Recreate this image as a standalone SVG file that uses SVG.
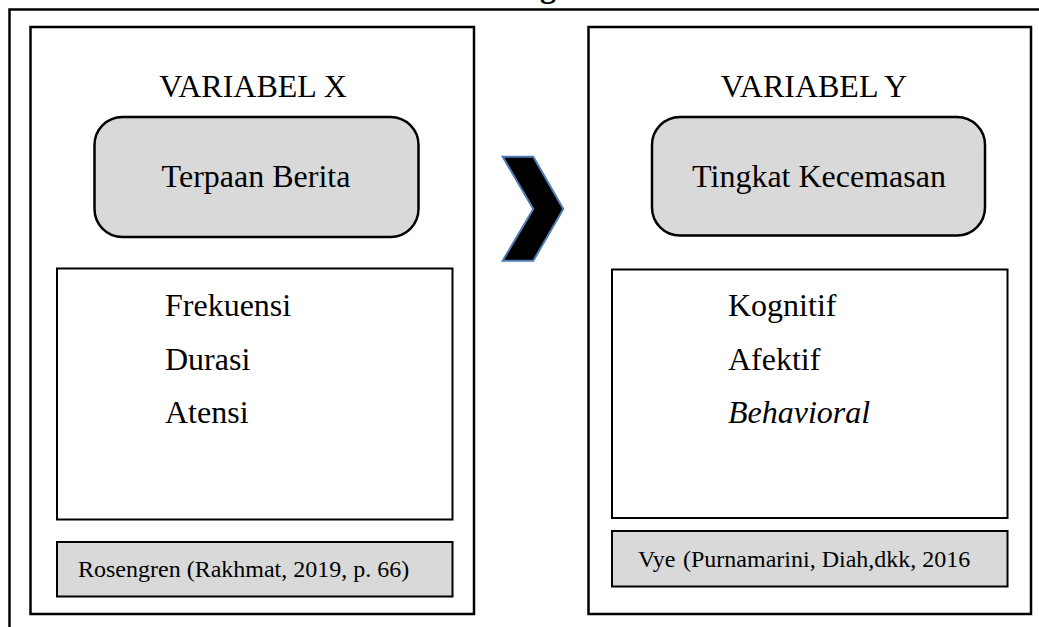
<svg xmlns="http://www.w3.org/2000/svg" width="1039" height="627" viewBox="0 0 1039 627">
<style>
  text { font-family: "Liberation Serif", "Times New Roman", serif; fill: #000; }
  .big { font-size: 32px; }
  .cite { font-size: 24px; }
  .panel { fill: #fff; stroke: #000; stroke-width: 2.5; }
  .inner { fill: #fff; stroke: #000; stroke-width: 2; }
  .head { fill: #d9d9d9; stroke: #000; stroke-width: 2.5; }
  .citebox { fill: #d9d9d9; stroke: #000; stroke-width: 2; }
</style>
<rect width="1039" height="627" fill="#fff"/>
<text x="540" y="-3" font-weight="bold" class="big">g</text>
<g id="frame">
  <path d="M9.5 627 V9.5 H1039" fill="none" stroke="#000" stroke-width="2.5"/>
</g>
<g id="variabel-x">
  <rect class="panel" x="30.5" y="27" width="443.5" height="587"/>
  <text class="big" x="253" y="97" text-anchor="middle">VARIABEL X</text>
</g>
<g id="terpaan-berita">
  <rect class="head" x="94.5" y="117" width="324" height="120" rx="28"/>
  <text class="big" x="256" y="187" text-anchor="middle">Terpaan Berita</text>
</g>
<g id="indikator-x">
  <rect class="inner" x="57" y="268.5" width="395.5" height="251"/>
  <text class="big" x="165" y="316">Frekuensi</text>
  <text class="big" x="165" y="370">Durasi</text>
  <text class="big" x="165" y="423">Atensi</text>
</g>
<g id="sumber-x">
  <rect class="citebox" x="57" y="542" width="395.5" height="54.5"/>
  <text class="cite" x="78" y="577">Rosengren (Rakhmat, 2019, p. 66)</text>
</g>
<g id="variabel-y">
  <rect class="panel" x="588.5" y="27" width="442.5" height="587"/>
  <text class="big" x="814" y="97" text-anchor="middle">VARIABEL Y</text>
</g>
<g id="tingkat-kecemasan">
  <rect class="head" x="652" y="117" width="333" height="118.5" rx="28"/>
  <text class="big" x="819" y="187" text-anchor="middle">Tingkat Kecemasan</text>
</g>
<g id="indikator-y">
  <rect class="inner" x="612" y="269.5" width="395.5" height="248.5"/>
  <text class="big" x="728" y="316">Kognitif</text>
  <text class="big" x="728" y="370">Afektif</text>
  <text class="big" x="728" y="423" font-style="italic">Behavioral</text>
</g>
<g id="sumber-y">
  <rect class="citebox" x="612" y="531" width="395.5" height="55.5"/>
  <text class="cite" x="638" y="567">Vye<tspan x="683">(Purnamarini, Diah,dkk, 2016</tspan></text>
</g>
<g id="connectors">
  <polygon points="502.7,156.7 533.3,156.7 563.3,209 533.3,260.7 502.7,260.7 533.3,209" fill="#000" stroke="#4f7db3" stroke-width="2"/>
</g>
</svg>
